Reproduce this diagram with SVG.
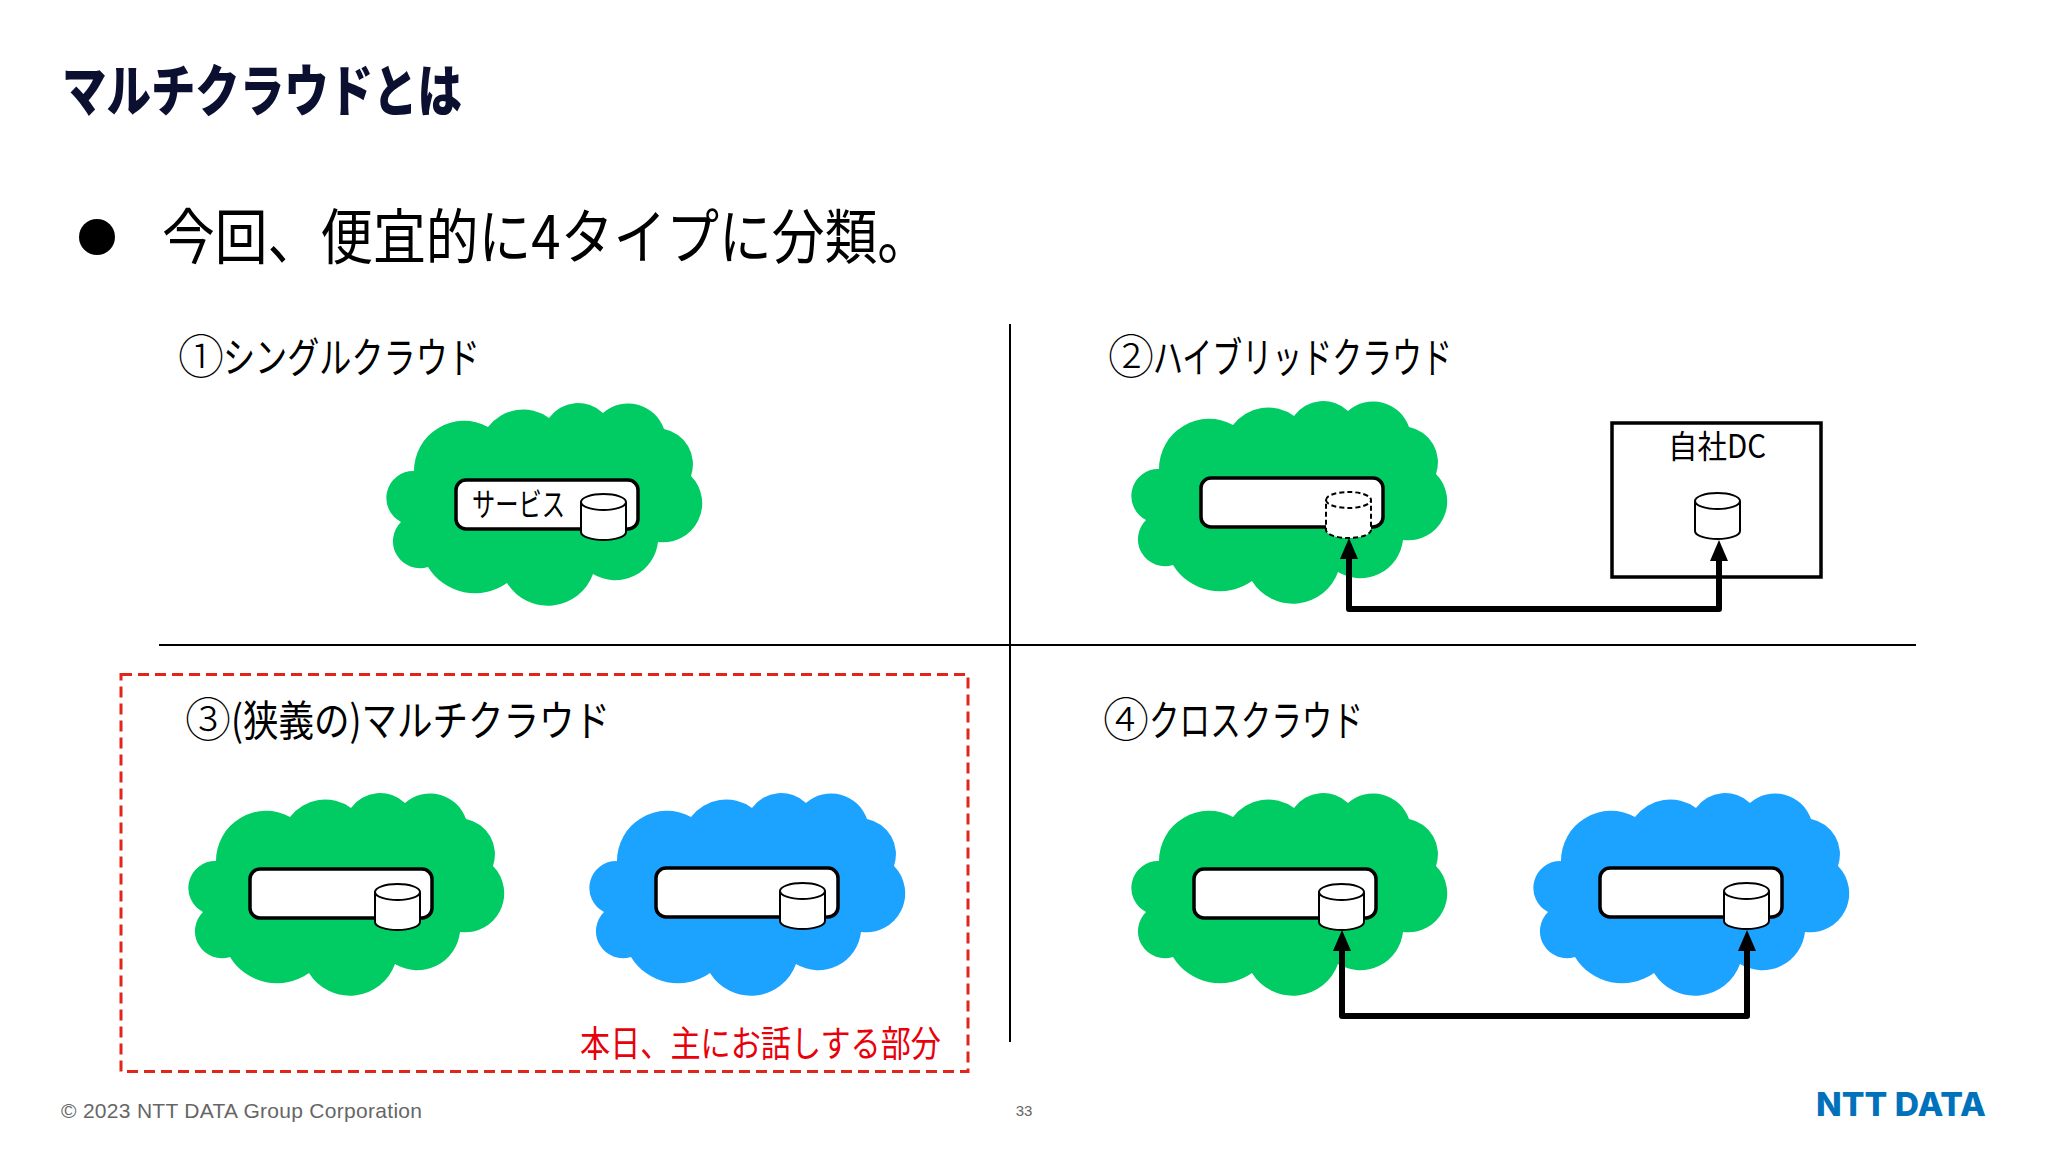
<svg xmlns="http://www.w3.org/2000/svg" width="2048" height="1152" viewBox="0 0 2048 1152">
<style>
text{font-family:"Noto Sans CJK JP","Liberation Sans",sans-serif;fill:#000}
.lab{font-size:42px;font-weight:400}
.num{font-size:46px;font-weight:300}
.svc{fill:#fff;stroke:#000;stroke-width:3.5}
.cyl{fill:#fff;stroke:#000;stroke-width:2}
.dash{stroke-dasharray:5 3}
.g{fill:#00cc63}
.b{fill:#1ca2ff}
.rule{stroke:#000;stroke-width:2;fill:none}
.conn{fill:none;stroke:#000;stroke-width:6;stroke-linejoin:round;marker-start:url(#head);marker-end:url(#head)}
</style>
<defs>
<path id="cloud" d="M414 471A50 50 0 0 1 488 427A44 44 0 0 1 549 418A36 36 0 0 1 603 413A38 38 0 0 1 664 429A36 36 0 0 1 691 476A39 39 0 0 1 658 542A43 43 0 0 1 593 574A48 48 0 0 1 507 583A55 55 0 0 1 428 567A27 27 0 0 1 401 522A27 27 0 0 1 414 471Z"/>
<g id="cylinder"><path d="M0 8A22.5 8 0 0 1 45 8V38A22.5 8 0 0 1 0 38Z"/><path d="M0 8A22.5 8 0 0 0 45 8" fill="none"/></g>
<marker id="head" markerUnits="userSpaceOnUse" markerWidth="22" markerHeight="20" refX="0" refY="10" orient="auto-start-reverse" viewBox="0 0 22 20"><path d="M0 1L21 10L0 19Z" fill="#000"/></marker>
</defs>
<rect width="2048" height="1152" fill="#fff"/>
<text id="title" x="62" y="111" font-size="56" font-weight="900" textLength="400" lengthAdjust="spacingAndGlyphs" style="fill:#0b1030">マルチクラウドとは</text>
<circle id="bullet" cx="97" cy="237" r="18" fill="#000"/>
<text id="lead" x="162" y="259" font-size="60" font-weight="400" textLength="768" lengthAdjust="spacingAndGlyphs">今回、便宜的に4タイプに分類。</text>
<g id="dividers"><path class="rule" d="M1010 324V1042M159 645H1916"/></g>
<g id="highlight"><rect x="121" y="674.5" width="847" height="397" fill="none" stroke="#e0251b" stroke-width="3" stroke-dasharray="11 6"/>
<text x="580" y="1057" font-size="36" font-weight="400" textLength="361" lengthAdjust="spacingAndGlyphs" style="fill:#e8000b">本日、主にお話しする部分</text></g>
<text id="q1-label" class="lab" y="373"><tspan class="num" x="178" textLength="46" lengthAdjust="spacingAndGlyphs">①</tspan><tspan x="223" textLength="257" lengthAdjust="spacingAndGlyphs">シングルクラウド</tspan></text>
<text id="q2-label" class="lab" y="373"><tspan class="num" x="1108" textLength="46" lengthAdjust="spacingAndGlyphs">②</tspan><tspan x="1153" textLength="299" lengthAdjust="spacingAndGlyphs">ハイブリッドクラウド</tspan></text>
<text id="q3-label" class="lab" y="736"><tspan class="num" x="185" textLength="46" lengthAdjust="spacingAndGlyphs">③</tspan><tspan x="231" textLength="379" lengthAdjust="spacingAndGlyphs">(狭義の)マルチクラウド</tspan></text>
<text id="q4-label" class="lab" y="736"><tspan class="num" x="1103" textLength="46" lengthAdjust="spacingAndGlyphs">④</tspan><tspan x="1149" textLength="214" lengthAdjust="spacingAndGlyphs">クロスクラウド</tspan></text>

<g id="q1-cloud"><use href="#cloud" class="g"/><rect class="svc" x="456" y="480" width="182" height="49" rx="10"/>
<text x="472" y="516" font-size="32" font-weight="400" textLength="93" lengthAdjust="spacingAndGlyphs">サービス</text>
<use href="#cylinder" class="cyl" x="581" y="494"/></g>

<g id="q2-cloud"><use href="#cloud" class="g" x="745" y="-2"/><rect class="svc" x="1201" y="478" width="182" height="49" rx="10"/>
<use href="#cylinder" class="cyl dash" x="1326" y="492"/></g>
<g id="q2-dc"><rect x="1612" y="423" width="209" height="154" fill="#fff" stroke="#000" stroke-width="3.5"/>
<text x="1668" y="458" font-size="32" font-weight="400" textLength="98" lengthAdjust="spacingAndGlyphs">自社DC</text>
<use href="#cylinder" class="cyl" x="1695" y="493"/></g>

<g id="q3-green"><use href="#cloud" class="g" x="-198" y="390"/><rect class="svc" x="250" y="869" width="182" height="49" rx="10"/>
<use href="#cylinder" class="cyl" x="375" y="884"/></g>
<g id="q3-blue"><use href="#cloud" class="b" x="203" y="390"/><rect class="svc" x="656" y="868" width="182" height="49" rx="10"/>
<use href="#cylinder" class="cyl" x="780" y="883"/></g>

<g id="q4-green"><use href="#cloud" class="g" x="745" y="390"/><rect class="svc" x="1194" y="869" width="182" height="49" rx="10"/>
<use href="#cylinder" class="cyl" x="1319" y="884"/></g>
<g id="q4-blue"><use href="#cloud" class="b" x="1147" y="390"/><rect class="svc" x="1600" y="868" width="182" height="49" rx="10"/>
<use href="#cylinder" class="cyl" x="1724" y="883"/></g>

<g id="connectors">
<path class="conn" d="M1349 559V609H1719V561"/>
<path class="conn" d="M1342 951V1016H1747V951"/>
</g>
<text id="copyright" x="61" y="1118" font-size="21" textLength="361" style="font-family:'Liberation Sans',sans-serif;fill:#666">© 2023 NTT DATA Group Corporation</text>
<text id="page" x="1024" y="1116" font-size="15" text-anchor="middle" style="font-family:'Liberation Sans',sans-serif;fill:#666">33</text>
<text id="logo" x="1816" y="1116" font-size="33" font-weight="800" textLength="170" lengthAdjust="spacingAndGlyphs" style="font-family:Inter,'Liberation Sans',sans-serif;fill:#0072bc">NTT DATA</text>
</svg>
